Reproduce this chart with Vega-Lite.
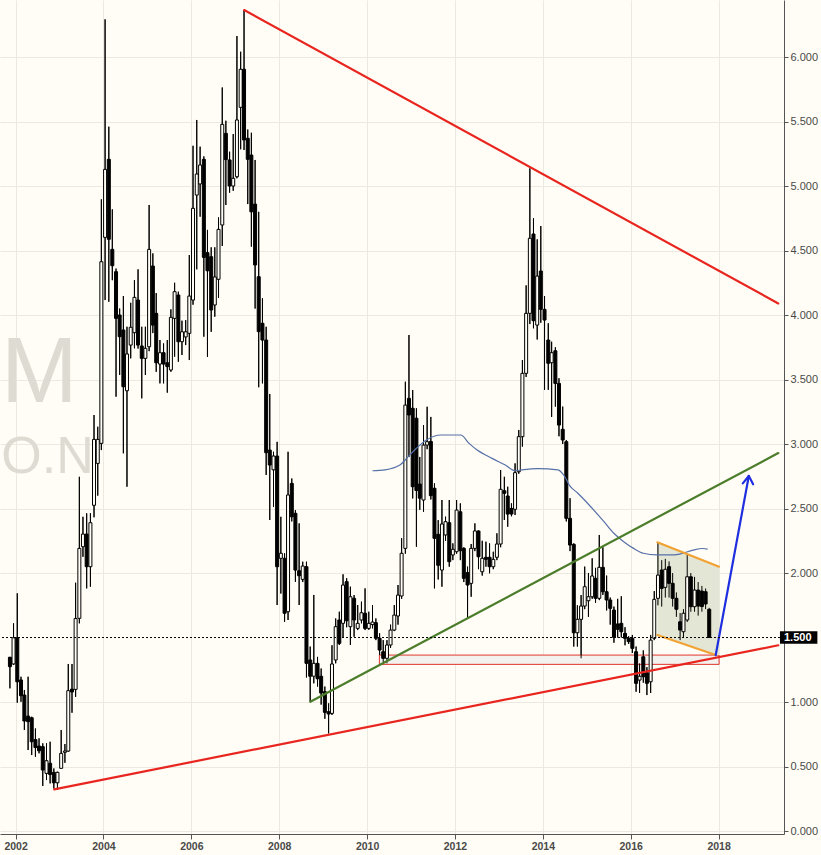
{
  "$schema": "https://vega.github.io/schema/vega-lite/v6.json",
  "width": 784,
  "height": 834,
  "autosize": {"type": "none"},
  "padding": {"left": 0, "top": 0, "right": 37, "bottom": 21},
  "background": "#fffdf5",
  "config": {
    "view": {"stroke": null},
    "axis": {"labelFont": "Liberation Sans", "domainColor": "#555555", "tickColor": "#555555", "labelColor": "#4a4a4a", "gridColor": "#ece9e0", "gridWidth": 1}
  },
  "datasets": {
    "candles": [
      {"d":"2001-11-15","o":1.347,"h":1.35,"l":1.106,"c":1.274},
      {"d":"2001-12-15","o":1.295,"h":1.61,"l":1.287,"c":1.498},
      {"d":"2002-01-15","o":1.498,"h":1.843,"l":0.995,"c":1.157},
      {"d":"2002-02-15","o":1.171,"h":1.196,"l":1.002,"c":1.049},
      {"d":"2002-03-15","o":1.054,"h":1.093,"l":0.783,"c":0.853},
      {"d":"2002-04-15","o":0.891,"h":1.196,"l":0.628,"c":0.848},
      {"d":"2002-05-15","o":0.878,"h":0.886,"l":0.589,"c":0.692},
      {"d":"2002-06-15","o":0.709,"h":0.795,"l":0.576,"c":0.647},
      {"d":"2002-07-15","o":0.659,"h":0.719,"l":0.602,"c":0.622},
      {"d":"2002-08-15","o":0.654,"h":0.68,"l":0.349,"c":0.473},
      {"d":"2002-09-15","o":0.447,"h":0.68,"l":0.395,"c":0.545},
      {"d":"2002-10-15","o":0.525,"h":0.692,"l":0.369,"c":0.438},
      {"d":"2002-11-15","o":0.455,"h":0.485,"l":0.33,"c":0.374},
      {"d":"2002-12-15","o":0.374,"h":0.46,"l":0.32,"c":0.455},
      {"d":"2003-01-15","o":0.486,"h":0.783,"l":0.486,"c":0.602},
      {"d":"2003-02-15","o":0.61,"h":0.674,"l":0.529,"c":0.62},
      {"d":"2003-03-15","o":0.62,"h":1.295,"l":0.614,"c":1.088},
      {"d":"2003-04-15","o":1.1,"h":1.295,"l":0.917,"c":1.078},
      {"d":"2003-05-15","o":1.098,"h":1.925,"l":1.04,"c":1.647},
      {"d":"2003-06-15","o":1.649,"h":2.746,"l":1.61,"c":2.191},
      {"d":"2003-07-15","o":2.204,"h":2.436,"l":2.126,"c":2.302},
      {"d":"2003-08-15","o":2.302,"h":2.463,"l":1.881,"c":2.049},
      {"d":"2003-09-15","o":2.049,"h":2.463,"l":1.894,"c":2.39},
      {"d":"2003-10-15","o":2.525,"h":3.225,"l":2.432,"c":3.036},
      {"d":"2003-11-15","o":2.85,"h":3.134,"l":2.6,"c":3.036},
      {"d":"2003-12-15","o":3.005,"h":4.897,"l":2.953,"c":4.413},
      {"d":"2004-01-15","o":4.602,"h":6.292,"l":4.116,"c":5.129},
      {"d":"2004-02-15","o":5.207,"h":5.46,"l":4.103,"c":4.587},
      {"d":"2004-03-15","o":4.509,"h":4.819,"l":4.27,"c":4.382},
      {"d":"2004-04-15","o":4.336,"h":4.36,"l":3.367,"c":3.974},
      {"d":"2004-05-15","o":4.0,"h":4.05,"l":3.535,"c":3.832},
      {"d":"2004-06-15","o":3.884,"h":4.147,"l":2.928,"c":3.444},
      {"d":"2004-07-15","o":3.413,"h":3.909,"l":2.669,"c":3.698},
      {"d":"2004-08-15","o":3.767,"h":4.095,"l":3.664,"c":3.905},
      {"d":"2004-09-15","o":3.863,"h":4.27,"l":3.742,"c":4.137},
      {"d":"2004-10-15","o":4.116,"h":4.354,"l":3.74,"c":3.767},
      {"d":"2004-11-15","o":3.76,"h":3.909,"l":3.354,"c":3.664},
      {"d":"2004-12-15","o":3.664,"h":3.909,"l":3.535,"c":3.742},
      {"d":"2005-01-15","o":3.754,"h":4.853,"l":3.72,"c":4.509},
      {"d":"2005-02-15","o":4.38,"h":4.478,"l":3.86,"c":3.922},
      {"d":"2005-03-15","o":4.013,"h":4.17,"l":3.56,"c":3.63},
      {"d":"2005-04-15","o":3.62,"h":3.806,"l":3.47,"c":3.708},
      {"d":"2005-05-15","o":3.708,"h":3.78,"l":3.47,"c":3.62},
      {"d":"2005-06-15","o":3.63,"h":3.806,"l":3.398,"c":3.6},
      {"d":"2005-07-15","o":3.574,"h":4.044,"l":3.56,"c":3.982},
      {"d":"2005-08-15","o":3.974,"h":4.25,"l":3.677,"c":4.181},
      {"d":"2005-09-15","o":4.155,"h":4.181,"l":3.638,"c":3.793},
      {"d":"2005-10-15","o":3.793,"h":3.956,"l":3.69,"c":3.87},
      {"d":"2005-11-15","o":3.83,"h":3.96,"l":3.767,"c":3.87},
      {"d":"2005-12-15","o":3.858,"h":4.465,"l":3.651,"c":4.147},
      {"d":"2006-01-15","o":4.116,"h":5.312,"l":4.08,"c":4.827},
      {"d":"2006-02-15","o":4.93,"h":5.512,"l":4.354,"c":5.093},
      {"d":"2006-03-15","o":5.016,"h":5.305,"l":4.762,"c":5.163},
      {"d":"2006-04-15","o":5.207,"h":5.23,"l":3.832,"c":4.447},
      {"d":"2006-05-15","o":4.483,"h":4.66,"l":3.676,"c":4.343},
      {"d":"2006-06-15","o":4.452,"h":4.525,"l":3.87,"c":4.039},
      {"d":"2006-07-15","o":4.078,"h":4.525,"l":3.987,"c":4.295},
      {"d":"2006-08-15","o":4.277,"h":4.757,"l":4.132,"c":4.664},
      {"d":"2006-09-15","o":4.698,"h":5.764,"l":4.535,"c":5.478},
      {"d":"2006-10-15","o":5.408,"h":5.506,"l":4.853,"c":5.205},
      {"d":"2006-11-15","o":5.202,"h":5.266,"l":4.948,"c":5.0},
      {"d":"2006-12-15","o":5.0,"h":5.403,"l":4.963,"c":5.06},
      {"d":"2007-01-15","o":5.072,"h":6.163,"l":5.06,"c":5.512},
      {"d":"2007-02-15","o":5.61,"h":6.041,"l":5.285,"c":5.905},
      {"d":"2007-03-15","o":5.905,"h":6.364,"l":5.279,"c":5.357},
      {"d":"2007-04-15","o":5.37,"h":5.438,"l":4.86,"c":5.207},
      {"d":"2007-05-15","o":5.24,"h":5.413,"l":4.53,"c":4.8},
      {"d":"2007-06-15","o":4.86,"h":5.202,"l":4.05,"c":4.388},
      {"d":"2007-07-15","o":4.297,"h":4.8,"l":3.44,"c":3.871},
      {"d":"2007-08-15","o":3.936,"h":4.13,"l":3.47,"c":3.806},
      {"d":"2007-09-15","o":3.806,"h":3.909,"l":2.76,"c":2.933},
      {"d":"2007-10-15","o":2.953,"h":3.388,"l":2.411,"c":2.837},
      {"d":"2007-11-15","o":2.8,"h":2.94,"l":2.514,"c":2.907},
      {"d":"2007-12-15","o":2.907,"h":3.017,"l":1.752,"c":2.049},
      {"d":"2008-01-15","o":2.114,"h":2.436,"l":1.841,"c":2.153},
      {"d":"2008-02-15","o":2.114,"h":2.153,"l":1.622,"c":1.688},
      {"d":"2008-03-15","o":1.7,"h":2.94,"l":1.636,"c":2.605},
      {"d":"2008-04-15","o":2.695,"h":2.733,"l":2.4,"c":2.436},
      {"d":"2008-05-15","o":2.463,"h":2.488,"l":1.932,"c":2.023},
      {"d":"2008-06-15","o":2.018,"h":2.385,"l":1.752,"c":1.979},
      {"d":"2008-07-15","o":1.951,"h":2.088,"l":1.93,"c":2.054},
      {"d":"2008-08-15","o":2.049,"h":2.088,"l":1.19,"c":1.3},
      {"d":"2008-09-15","o":1.326,"h":1.43,"l":1.002,"c":1.2},
      {"d":"2008-10-15","o":1.2,"h":1.83,"l":1.145,"c":1.3},
      {"d":"2008-11-15","o":1.3,"h":1.35,"l":1.12,"c":1.18},
      {"d":"2008-12-15","o":1.2,"h":1.26,"l":0.98,"c":1.07},
      {"d":"2009-01-15","o":1.08,"h":1.12,"l":0.87,"c":0.92},
      {"d":"2009-02-15","o":0.925,"h":0.99,"l":0.757,"c":0.907},
      {"d":"2009-03-15","o":0.912,"h":1.44,"l":0.9,"c":1.295},
      {"d":"2009-04-15","o":1.326,"h":1.648,"l":1.3,"c":1.584},
      {"d":"2009-05-15","o":1.636,"h":1.7,"l":1.442,"c":1.455},
      {"d":"2009-06-15","o":1.61,"h":1.99,"l":1.5,"c":1.907},
      {"d":"2009-07-15","o":1.933,"h":1.96,"l":1.58,"c":1.63},
      {"d":"2009-08-15","o":1.584,"h":1.894,"l":1.442,"c":1.816},
      {"d":"2009-09-15","o":1.804,"h":1.829,"l":1.506,"c":1.636},
      {"d":"2009-10-15","o":1.571,"h":1.752,"l":1.558,"c":1.61},
      {"d":"2009-11-15","o":1.636,"h":1.778,"l":1.61,"c":1.692},
      {"d":"2009-12-15","o":1.688,"h":1.881,"l":1.558,"c":1.571},
      {"d":"2010-01-15","o":1.571,"h":1.7,"l":1.56,"c":1.61},
      {"d":"2010-02-15","o":1.6,"h":1.752,"l":1.571,"c":1.62},
      {"d":"2010-03-15","o":1.615,"h":1.648,"l":1.48,"c":1.494},
      {"d":"2010-04-15","o":1.494,"h":1.533,"l":1.364,"c":1.403},
      {"d":"2010-05-15","o":1.39,"h":1.48,"l":1.31,"c":1.339},
      {"d":"2010-06-15","o":1.339,"h":1.48,"l":1.3,"c":1.442},
      {"d":"2010-07-15","o":1.442,"h":1.6,"l":1.42,"c":1.558},
      {"d":"2010-08-15","o":1.558,"h":1.752,"l":1.55,"c":1.674},
      {"d":"2010-09-15","o":1.667,"h":1.907,"l":1.6,"c":1.829},
      {"d":"2010-10-15","o":1.822,"h":2.27,"l":1.8,"c":2.153},
      {"d":"2010-11-15","o":2.191,"h":3.483,"l":2.15,"c":3.302},
      {"d":"2010-12-15","o":3.354,"h":3.845,"l":2.9,"c":3.225},
      {"d":"2011-01-15","o":3.277,"h":3.418,"l":2.578,"c":2.669},
      {"d":"2011-02-15","o":3.2,"h":3.277,"l":2.204,"c":2.64},
      {"d":"2011-03-15","o":2.69,"h":2.9,"l":2.49,"c":2.58},
      {"d":"2011-04-15","o":2.566,"h":3.147,"l":2.475,"c":2.992},
      {"d":"2011-05-15","o":2.992,"h":3.289,"l":2.96,"c":3.018},
      {"d":"2011-06-15","o":3.02,"h":3.21,"l":2.57,"c":2.6},
      {"d":"2011-07-15","o":2.657,"h":2.695,"l":1.881,"c":2.269},
      {"d":"2011-08-15","o":2.3,"h":2.41,"l":1.95,"c":2.06},
      {"d":"2011-09-15","o":2.023,"h":2.566,"l":1.894,"c":2.38},
      {"d":"2011-10-15","o":2.295,"h":2.437,"l":2.25,"c":2.398},
      {"d":"2011-11-15","o":2.39,"h":2.566,"l":2.049,"c":2.088},
      {"d":"2011-12-15","o":2.14,"h":2.23,"l":2.1,"c":2.184},
      {"d":"2012-01-15","o":2.165,"h":2.566,"l":2.15,"c":2.488},
      {"d":"2012-02-15","o":2.475,"h":2.54,"l":2.1,"c":2.173},
      {"d":"2012-03-15","o":2.191,"h":2.2,"l":1.93,"c":1.959},
      {"d":"2012-04-15","o":2.003,"h":2.05,"l":1.649,"c":1.907},
      {"d":"2012-05-15","o":1.92,"h":2.225,"l":1.816,"c":2.191},
      {"d":"2012-06-15","o":2.191,"h":2.385,"l":2.17,"c":2.326},
      {"d":"2012-07-15","o":2.326,"h":2.33,"l":2.03,"c":2.126},
      {"d":"2012-08-15","o":2.01,"h":2.25,"l":1.98,"c":2.114},
      {"d":"2012-09-15","o":2.122,"h":2.243,"l":2.049,"c":2.106},
      {"d":"2012-10-15","o":2.122,"h":2.23,"l":1.998,"c":2.049},
      {"d":"2012-11-15","o":2.049,"h":2.165,"l":2.03,"c":2.106},
      {"d":"2012-12-15","o":2.122,"h":2.308,"l":2.1,"c":2.225},
      {"d":"2013-01-15","o":2.225,"h":2.798,"l":2.2,"c":2.649},
      {"d":"2013-02-15","o":2.638,"h":2.746,"l":2.411,"c":2.618},
      {"d":"2013-03-15","o":2.597,"h":2.669,"l":2.359,"c":2.457},
      {"d":"2013-04-15","o":2.501,"h":2.54,"l":2.44,"c":2.457},
      {"d":"2013-05-15","o":2.494,"h":2.85,"l":2.45,"c":2.778},
      {"d":"2013-06-15","o":2.785,"h":3.109,"l":2.77,"c":3.057},
      {"d":"2013-07-15","o":3.057,"h":3.651,"l":2.98,"c":3.548},
      {"d":"2013-08-15","o":3.548,"h":4.23,"l":3.52,"c":4.013},
      {"d":"2013-09-15","o":4.013,"h":5.137,"l":3.93,"c":4.595},
      {"d":"2013-10-15","o":4.628,"h":4.75,"l":3.897,"c":3.956},
      {"d":"2013-11-15","o":3.922,"h":4.587,"l":3.81,"c":4.302},
      {"d":"2013-12-15","o":4.341,"h":4.69,"l":3.94,"c":4.044},
      {"d":"2014-01-15","o":4.044,"h":4.147,"l":3.42,"c":3.961},
      {"d":"2014-02-15","o":3.806,"h":3.936,"l":3.42,"c":3.626},
      {"d":"2014-03-15","o":3.63,"h":3.793,"l":3.21,"c":3.708},
      {"d":"2014-04-15","o":3.723,"h":3.75,"l":3.29,"c":3.47},
      {"d":"2014-05-15","o":3.47,"h":3.51,"l":3.06,"c":3.147},
      {"d":"2014-06-15","o":3.114,"h":3.29,"l":3.0,"c":3.031},
      {"d":"2014-07-15","o":3.018,"h":3.03,"l":2.4,"c":2.424},
      {"d":"2014-08-15","o":2.424,"h":2.58,"l":2.17,"c":2.217},
      {"d":"2014-09-15","o":2.222,"h":2.23,"l":1.43,"c":1.537},
      {"d":"2014-10-15","o":1.537,"h":1.75,"l":1.43,"c":1.641},
      {"d":"2014-11-15","o":1.641,"h":1.829,"l":1.339,"c":1.744},
      {"d":"2014-12-15","o":1.744,"h":2.05,"l":1.72,"c":1.894},
      {"d":"2015-01-15","o":1.785,"h":2.0,"l":1.66,"c":1.816},
      {"d":"2015-02-15","o":1.816,"h":2.114,"l":1.8,"c":1.977},
      {"d":"2015-03-15","o":1.959,"h":2.04,"l":1.77,"c":1.804},
      {"d":"2015-04-15","o":1.804,"h":2.295,"l":1.79,"c":2.044},
      {"d":"2015-05-15","o":2.044,"h":2.2,"l":1.83,"c":1.855},
      {"d":"2015-06-15","o":1.855,"h":1.98,"l":1.71,"c":1.791},
      {"d":"2015-07-15","o":1.791,"h":1.81,"l":1.6,"c":1.726},
      {"d":"2015-08-15","o":1.713,"h":1.74,"l":1.46,"c":1.502},
      {"d":"2015-09-15","o":1.605,"h":1.8,"l":1.5,"c":1.564},
      {"d":"2015-10-15","o":1.61,"h":1.82,"l":1.5,"c":1.545},
      {"d":"2015-11-15","o":1.532,"h":1.58,"l":1.44,"c":1.494},
      {"d":"2015-12-15","o":1.494,"h":1.51,"l":1.45,"c":1.468},
      {"d":"2016-01-15","o":1.494,"h":1.52,"l":1.38,"c":1.416},
      {"d":"2016-02-15","o":1.39,"h":1.43,"l":1.08,"c":1.145},
      {"d":"2016-03-15","o":1.17,"h":1.3,"l":1.07,"c":1.2},
      {"d":"2016-04-15","o":1.351,"h":1.4,"l":1.15,"c":1.196},
      {"d":"2016-05-15","o":1.227,"h":1.27,"l":1.054,"c":1.145},
      {"d":"2016-06-15","o":1.157,"h":1.52,"l":1.07,"c":1.48},
      {"d":"2016-07-15","o":1.494,"h":1.86,"l":1.48,"c":1.796},
      {"d":"2016-08-15","o":1.804,"h":2.235,"l":1.75,"c":1.984},
      {"d":"2016-09-15","o":2.023,"h":2.1,"l":1.74,"c":1.881},
      {"d":"2016-10-15","o":1.889,"h":2.11,"l":1.81,"c":2.029},
      {"d":"2016-11-15","o":2.049,"h":2.09,"l":1.81,"c":1.92},
      {"d":"2016-12-15","o":1.92,"h":2.0,"l":1.74,"c":1.804},
      {"d":"2017-01-15","o":1.804,"h":1.85,"l":1.66,"c":1.719},
      {"d":"2017-02-15","o":1.622,"h":1.69,"l":1.48,"c":1.558},
      {"d":"2017-03-15","o":1.545,"h":1.72,"l":1.5,"c":1.688},
      {"d":"2017-04-15","o":1.636,"h":2.14,"l":1.62,"c":1.971},
      {"d":"2017-05-15","o":1.971,"h":2.0,"l":1.7,"c":1.739},
      {"d":"2017-06-15","o":1.739,"h":1.97,"l":1.7,"c":1.868},
      {"d":"2017-07-15","o":1.868,"h":1.93,"l":1.67,"c":1.744},
      {"d":"2017-08-15","o":1.86,"h":1.9,"l":1.7,"c":1.74},
      {"d":"2017-09-15","o":1.855,"h":1.88,"l":1.72,"c":1.76},
      {"d":"2017-10-15","o":1.719,"h":1.73,"l":1.5,"c":1.5}
    ],
    "ma": [
      {"d":"2010-02-15","v":2.793},{"d":"2010-05-30","v":2.8},{"d":"2010-10-01","v":2.837},
      {"d":"2010-11-25","v":2.889},{"d":"2011-02-15","v":2.967},{"d":"2011-05-08","v":3.031},
      {"d":"2011-09-08","v":3.07},{"d":"2012-02-19","v":3.07},{"d":"2012-04-28","v":3.005},
      {"d":"2012-07-04","v":2.953},{"d":"2012-11-04","v":2.889},{"d":"2013-02-23","v":2.837},
      {"d":"2013-05-16","v":2.793},{"d":"2013-07-09","v":2.8},{"d":"2013-11-23","v":2.81},
      {"d":"2014-05-06","v":2.8},{"d":"2014-06-30","v":2.75},{"d":"2014-08-10","v":2.68},
      {"d":"2014-10-17","v":2.62},{"d":"2015-02-03","v":2.514},{"d":"2015-05-24","v":2.398},
      {"d":"2015-08-14","v":2.308},{"d":"2015-11-04","v":2.243},{"d":"2016-01-25","v":2.191},
      {"d":"2016-04-16","v":2.153},{"d":"2016-08-04","v":2.14},{"d":"2016-11-21","v":2.14},
      {"d":"2017-02-12","v":2.147},{"d":"2017-06-02","v":2.178},{"d":"2017-08-22","v":2.19},
      {"d":"2017-10-02","v":2.185}
    ],
    "lines": [
      {"name":"resistance","d":"2007-03-16","v":6.364,"d2":"2019-05-12","v2":4.09},
      {"name":"support","d":"2002-11-18","v":0.323,"d2":"2019-05-12","v2":1.44},
      {"name":"uptrend","d":"2008-09-16","v":1.002,"d2":"2019-05-12","v2":2.93},
      {"name":"channel","d":"2016-08-10","v":2.238,"d2":"2018-01-05","v2":2.049},
      {"name":"channel","d":"2016-08-10","v":1.519,"d2":"2017-12-08","v2":1.364},
      {"name":"target","d":"2017-12-08","v":1.364,"d2":"2018-09-09","v2":2.752},
      {"name":"target","d":"2018-09-09","v":2.752,"d2":"2018-07-21","v2":2.695},
      {"name":"target","d":"2018-09-09","v":2.752,"d2":"2018-10-15","v2":2.688}
    ],
    "zone": [{"d":"2010-04-13","d2":"2018-01-05","v":1.292,"v2":1.364}],
    "channel": [{"d":"2016-08-10","lo":1.519,"hi":2.238},{"d":"2017-12-08","lo":1.364,"hi":2.06},{"d":"2018-01-05","lo":1.364,"hi":2.049}],
    "watermark": [{"d":"2001-09-01","v":3.326,"t":"M"},{"d":"2003-10-13","v":2.775,"t":"O.N"}],
    "level": [{"v":1.5}],
    "last": [{"d":"2019-05-26","d2":"2020-04-01","v":1.452,"v2":1.548,"dc":"2019-10-21","vc":1.5,"t":"1.500"}]
  },
  "layer": [
    {
      "data": {"name": "candles"},
      "mark": {"type": "rule", "strokeWidth": 1, "color": "#000000"},
      "encoding": {
        "x": {"field": "d", "type": "temporal", "title": null,
          "scale": {"domain": [{"year": 2001, "month": 10, "date": 5}, {"year": 2019, "month": 5, "date": 18}]},
          "axis": {"orient": "bottom", "format": "%Y", "tickCount": {"interval": "year", "step": 2}, "labelFontWeight": "bold", "labelFontSize": 10.5, "tickSize": 5, "labelPadding": 2, "labelFlush": false, "labelOverlap": false, "grid": true}},
        "y": {"field": "l", "type": "quantitative", "title": null,
          "scale": {"domain": [-0.023, 6.442], "nice": false, "zero": false},
          "axis": {"orient": "right", "values": [0, 0.5, 1, 2, 2.5, 3, 3.5, 4, 4.5, 5, 5.5, 6], "format": ".3f", "labelFontSize": 11, "tickSize": 4, "labelPadding": 2, "grid": true}},
        "y2": {"field": "h"}
      }
    },
    {
      "data": {"name": "watermark"},
      "transform": [{"filter": "datum.t == 'M'"}],
      "mark": {"type": "text", "align": "left", "baseline": "alphabetic", "fontSize": 92, "font": "Liberation Sans", "color": "#dedbd2"},
      "encoding": {
        "x": {"field": "d", "type": "temporal", "title": null},
        "y": {"field": "v", "type": "quantitative", "title": null},
        "text": {"field": "t"}
      }
    },
    {
      "data": {"name": "watermark"},
      "transform": [{"filter": "datum.t == 'O.N'"}],
      "mark": {"type": "text", "align": "right", "baseline": "alphabetic", "fontSize": 52, "font": "Liberation Sans", "color": "#dedbd2"},
      "encoding": {
        "x": {"field": "d", "type": "temporal", "title": null},
        "y": {"field": "v", "type": "quantitative", "title": null},
        "text": {"field": "t"}
      }
    },
    {
      "data": {"name": "zone"},
      "mark": {"type": "rect", "fill": "#f3f2ee", "stroke": "#e0352c", "strokeWidth": 1},
      "encoding": {
        "x": {"field": "d", "type": "temporal", "title": null},
        "x2": {"field": "d2"},
        "y": {"field": "v", "type": "quantitative", "title": null},
        "y2": {"field": "v2"}
      }
    },
    {
      "data": {"name": "channel"},
      "mark": {"type": "area", "color": "#e3e6d4", "opacity": 1},
      "encoding": {
        "x": {"field": "d", "type": "temporal", "title": null},
        "y": {"field": "lo", "type": "quantitative", "title": null},
        "y2": {"field": "hi"}
      }
    },
    {
      "data": {"name": "candles"},
      "mark": {"type": "rule", "strokeWidth": 1, "color": "#000000"},
      "encoding": {
        "x": {"field": "d", "type": "temporal", "title": null},
        "y": {"field": "l", "type": "quantitative", "title": null},
        "y2": {"field": "h"}
      }
    },
    {
      "data": {"name": "candles"},
      "mark": {"type": "bar", "size": 3, "stroke": "#000000", "strokeWidth": 1},
      "encoding": {
        "x": {"field": "d", "type": "temporal", "title": null},
        "y": {"field": "o", "type": "quantitative", "title": null},
        "y2": {"field": "c"},
        "fill": {"condition": {"test": "datum.c >= datum.o", "value": "#fffdf5"}, "value": "#000000"}
      }
    },
    {
      "data": {"name": "ma"},
      "mark": {"type": "line", "color": "#5670a8", "strokeWidth": 1.2, "interpolate": "monotone"},
      "encoding": {
        "x": {"field": "d", "type": "temporal", "title": null},
        "y": {"field": "v", "type": "quantitative", "title": null}
      }
    },
    {
      "data": {"name": "lines"},
      "mark": {"type": "rule", "strokeWidth": 2.2, "strokeCap": "round"},
      "encoding": {
        "x": {"field": "d", "type": "temporal", "title": null},
        "x2": {"field": "d2"},
        "y": {"field": "v", "type": "quantitative", "title": null},
        "y2": {"field": "v2"},
        "color": {"field": "name", "type": "nominal", "legend": null,
          "scale": {"domain": ["resistance", "support", "uptrend", "channel", "target"], "range": ["#e8251f", "#e8251f", "#4b7d2b", "#f2a233", "#1f2fe0"]}}
      }
    },
    {
      "data": {"name": "level"},
      "mark": {"type": "rule", "color": "#000000", "strokeWidth": 1, "strokeDash": [2, 2]},
      "encoding": {
        "y": {"field": "v", "type": "quantitative", "title": null}
      }
    },
    {
      "data": {"name": "last"},
      "mark": {"type": "rect", "fill": "#000000", "clip": false},
      "encoding": {
        "x": {"field": "d", "type": "temporal", "title": null},
        "x2": {"field": "d2"},
        "y": {"field": "v", "type": "quantitative", "title": null},
        "y2": {"field": "v2"}
      }
    },
    {
      "data": {"name": "last"},
      "mark": {"type": "text", "color": "#ffffff", "fontWeight": "bold", "fontSize": 11, "font": "Liberation Sans", "align": "center", "baseline": "middle", "clip": false},
      "encoding": {
        "x": {"field": "dc", "type": "temporal", "title": null},
        "y": {"field": "vc", "type": "quantitative", "title": null},
        "text": {"field": "t"}
      }
    }
  ]
}
